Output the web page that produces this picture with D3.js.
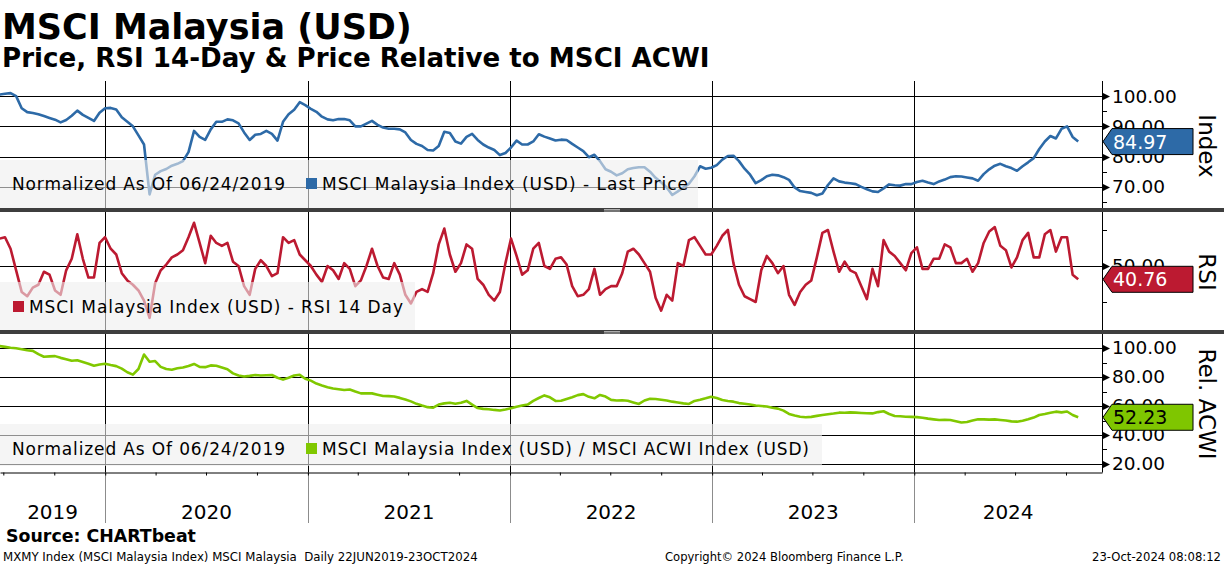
<!DOCTYPE html>
<html>
<head>
<meta charset="utf-8">
<script src="https://cdn.jsdelivr.net/npm/d3@7"></script>
<style>
  body { margin: 0; background: #fff; }
  svg { display: block; font-family: "DejaVu Sans", sans-serif; }
</style>
</head>
<body>
<svg id="chart" width="1224" height="566"></svg>
<script>
// ---- data (~10 day spacing) ----
const startDate = "2019-06-24";
const endDate = "2024-10-23";

const priceValues = [
  100.5, 100.8, 101.0, 100.0, 96.0, 94.7, 94.4, 94.0, 93.4, 92.8,
  92.2, 91.3, 92.1, 93.5, 95.2, 93.8, 92.8, 91.8, 94.5, 96.0,
  96.1, 95.6, 93.0, 91.5, 90.0, 87.0, 84.0, 67.5, 74.0, 75.2,
  75.9, 77.0, 77.6, 78.5, 81.5, 88.5, 86.5, 85.5, 89.0, 91.5,
  91.5, 92.3, 92.0, 91.0, 88.0, 85.5, 87.2, 87.5, 88.5, 87.5,
  85.3, 91.5, 94.0, 95.5, 98.0, 97.0, 95.8, 94.8, 93.2, 92.3,
  92.0, 92.4, 92.4, 92.0, 90.0, 90.0, 90.9, 91.8, 90.5, 89.6,
  89.2, 89.2, 89.0, 88.0, 85.5, 84.2, 83.5, 82.2, 82.0, 83.5,
  88.2, 87.8, 85.0, 84.3, 86.5, 87.5, 85.5, 84.0, 83.0, 82.2,
  80.5, 81.2, 83.0, 85.3, 84.0, 84.0, 85.0, 87.4, 86.6, 86.0,
  85.3, 85.6, 85.5, 84.2, 83.0, 81.8, 79.8, 80.6, 78.5, 75.8,
  75.0, 73.8, 74.5, 75.8, 76.2, 76.5, 76.5, 75.0, 73.0, 71.5,
  69.8, 67.3, 68.5, 69.8, 71.0, 73.5, 76.8, 76.0, 76.3, 77.2,
  79.0, 80.2, 80.3, 78.5, 76.0, 74.0, 71.2, 72.2, 73.5, 74.0,
  73.8, 73.2, 72.3, 69.8, 68.6, 68.3, 68.0, 67.2, 67.8, 70.6,
  72.8, 71.8, 71.4, 71.2, 70.9, 70.0, 69.2, 68.5, 68.3, 69.5,
  70.8, 70.5, 70.4, 70.9, 70.9, 71.6, 72.0, 71.4, 70.9, 71.8,
  72.4, 73.2, 73.5, 73.4, 73.1, 72.8, 72.0, 74.2, 75.8, 77.0,
  77.6, 76.8, 76.2, 75.3, 76.8, 78.1, 79.5, 82.5, 85.0, 86.8,
  86.0, 89.2, 90.0, 86.5, 84.97
];

const rsiValues = [
  69, 70, 62, 47, 32, 29, 35, 37, 46, 44,
  33, 30, 47, 55, 72, 55, 42, 42, 66, 70,
  62, 58, 45, 40, 37, 33, 26, 14, 38, 47,
  51, 56, 58, 61, 70, 80, 66, 52, 71, 66,
  64, 66, 53, 50, 36, 30, 48, 54, 50, 43,
  45, 70, 66, 68, 58, 54, 50, 44, 39, 50,
  47, 41, 52, 48, 36, 40, 50, 62, 50, 42,
  41, 52, 44, 30, 24, 32, 34, 32, 45, 65,
  76, 58, 46, 52, 65, 62, 41, 37, 30, 26,
  32, 52, 69, 57, 44, 47, 62, 66, 50, 48,
  55, 56, 51, 36, 29, 30, 34, 48, 30, 34,
  36, 36, 45, 60, 62, 58, 52, 46, 28, 19,
  30, 26, 52, 50, 68, 70, 64, 58, 58, 64,
  71, 75, 52, 37, 29, 27, 25, 47, 57, 52,
  45, 50, 30, 23, 32, 37, 40, 56, 73, 75,
  60, 46, 53, 47, 45, 36, 27, 48, 36, 68,
  60, 57, 52, 47, 59, 63, 48, 48, 55, 55,
  65, 63, 52, 52, 55, 46, 52, 66, 74, 77,
  64, 61, 49, 56, 68, 73, 56, 56, 72, 75,
  60, 70, 70, 44, 40.76
];

const relValues = [
  101.4, 100.8, 100.2, 99.8, 99.2, 98.5, 98.0, 95.8, 94.0, 94.2,
  94.4, 93.2, 92.3, 91.2, 91.6, 90.4, 89.2, 87.8, 88.6, 89.2,
  88.3, 87.5, 85.8, 83.3, 81.6, 85.5, 95.5, 90.5, 91.0, 87.0,
  85.5, 85.0, 86.0, 86.5, 87.6, 89.0, 87.0, 86.8, 88.0, 87.8,
  86.6, 85.4, 82.5, 81.0, 80.3, 80.8, 81.4, 81.0, 81.2, 81.4,
  79.5, 78.2, 79.5, 81.0, 81.5, 78.8, 77.5, 75.5, 74.2, 73.0,
  72.1, 71.6, 71.0, 71.4, 70.0, 68.7, 68.8, 68.7, 67.8, 66.9,
  66.8, 66.5, 65.6, 64.5, 63.2, 61.5, 60.3, 59.2, 58.8, 61.0,
  61.8, 62.2, 61.6, 62.2, 63.5, 61.0, 58.6, 58.0, 57.8, 57.3,
  56.9, 57.6, 58.4, 59.5, 60.3, 61.0, 63.5, 65.5, 67.3, 66.0,
  63.5, 63.6, 64.8, 66.0, 67.5, 68.2, 66.3, 65.3, 67.6, 66.5,
  64.2, 63.8, 64.0, 63.6, 62.5, 61.4, 63.8, 65.0, 64.8, 64.3,
  63.8, 63.0, 62.4, 61.8, 61.4, 63.5, 64.3, 65.3, 66.4, 65.5,
  64.2, 63.5, 63.0, 62.0, 61.6, 61.0, 60.3, 60.0, 59.6, 58.8,
  58.2, 56.8, 54.5, 53.4, 52.6, 52.2, 52.5, 53.2, 53.8, 54.3,
  54.8, 55.4, 55.3, 55.6, 55.4, 55.2, 55.0, 54.9, 55.8, 56.4,
  54.5, 53.1, 52.9, 52.6, 52.5, 52.3, 51.9, 51.3, 50.8, 50.3,
  50.5, 50.3, 49.5, 48.6, 49.0, 50.0, 50.8, 50.8, 50.6, 50.8,
  50.4, 50.0, 49.4, 49.2, 49.8, 50.8, 52.0, 53.8, 54.5, 55.3,
  56.1, 55.6, 56.2, 53.8, 52.23
];

const priceTicks = [100, 90, 80, 70];
const priceMinor = [95, 85, 75, 65];
const rsiTicks = [50];
const rsiMinor = [75, 25];
const relTicks = [100, 80, 60, 40, 20];
const relMinor = [90, 70, 50, 30];
const yearLabels = ["2019", "2020", "2021", "2022", "2023", "2024"];
const lastLabels = ["84.97", "40.76", "52.23"];

// ---- layout ----
const W = 1224, H = 566;
const plotRight = 1102;
const axisY = 472;
const svg = d3.select("#chart");

const x = d3.scaleTime()
  .domain([new Date(2019, 5, 25), new Date(2024, 11, 5)])
  .range([0, plotRight]);

const t0 = new Date(startDate + "T00:00:00"), t1 = new Date(endDate + "T00:00:00");
const n = priceValues.length;
const dates = priceValues.map((_, i) => new Date(+t0 + (t1 - t0) * i / (n - 1)));

const panels = [
  { values: priceValues, top: 81, bottom: 208, domain: [63, 105], ticks: priceTicks, minor: priceMinor,
    color: "#2d6aa7", fill: "#2d6aa7", textColor: "#fff", title: "Index", titleY: 146 },
  { values: rsiValues, top: 212, bottom: 330, domain: [5.56, 87.5], ticks: rsiTicks, minor: rsiMinor,
    color: "#bc1a31", fill: "#bc1a31", textColor: "#fff", title: "RSI", titleY: 272 },
  { values: relValues, top: 334, bottom: axisY, domain: [14.48, 109.66], ticks: relTicks, minor: relMinor,
    color: "#80c800", fill: "#7fc600", textColor: "#000", title: "Rel. ACWI", titleY: 404 }
];
panels.forEach(p => {
  p.y = d3.scaleLinear().domain(p.domain).range([p.bottom, p.top]);
});

const years = d3.timeYear.range(new Date(2020, 0, 1), new Date(2025, 0, 1));

// horizontal grid
panels.forEach(p => {
  svg.append("g").selectAll("line").data(p.ticks).join("line")
    .attr("x1", 0).attr("x2", plotRight)
    .attr("y1", d => Math.round(p.y(d)) + 0.5).attr("y2", d => Math.round(p.y(d)) + 0.5)
    .attr("stroke", "#000").attr("stroke-width", 1);
});

// vertical year grid
svg.append("g").selectAll("line").data(years).join("line")
  .attr("x1", d => Math.round(x(d)) + 0.5).attr("x2", d => Math.round(x(d)) + 0.5)
  .attr("y1", 81).attr("y2", axisY)
  .attr("stroke", "#000");
svg.append("g").selectAll("line").data(years).join("line")
  .attr("x1", d => Math.round(x(d)) + 0.5).attr("x2", d => Math.round(x(d)) + 0.5)
  .attr("y1", axisY).attr("y2", 523)
  .attr("stroke", "#8c8c8c");

// series lines
svg.append("clipPath").attr("id", "plotclip")
  .append("rect").attr("x", 0).attr("y", 70).attr("width", plotRight).attr("height", axisY - 70);

panels.forEach(p => {
  const line = d3.line()
    .x((d, i) => x(dates[i]))
    .y(d => p.y(d));
  svg.append("path")
    .attr("d", line(p.values))
    .attr("clip-path", "url(#plotclip)")
    .attr("fill", "none")
    .attr("stroke", p.color)
    .attr("stroke-width", 2.6)
    .attr("stroke-linejoin", "round");
});

// legend boxes
const legends = [
  { x: 0, y: 160, w: 698, h: 48, base: 190,
    items: [ { text: "Normalized As Of 06/24/2019", x: 12, w: 273 },
             { text: "MSCI Malaysia Index (USD) - Last Price", x: 322, w: 366, marker: 306, color: panels[0].color } ] },
  { x: 0, y: 282, w: 415, h: 48, base: 313,
    items: [ { text: "MSCI Malaysia Index (USD) - RSI 14 Day", x: 29, w: 374, marker: 13, color: panels[1].color } ] },
  { x: 0, y: 424, w: 822, h: 42, base: 455,
    items: [ { text: "Normalized As Of 06/24/2019", x: 12, w: 273 },
             { text: "MSCI Malaysia Index (USD) / MSCI ACWI Index (USD)", x: 322, w: 487, marker: 306, color: panels[2].color } ] }
];
legends.forEach(l => {
  svg.append("rect").attr("x", l.x).attr("y", l.y).attr("width", l.w).attr("height", l.h)
    .attr("fill", "#eeeeee").attr("fill-opacity", 0.6);
  l.items.forEach(it => {
    if (it.marker !== undefined) {
      svg.append("rect").attr("x", it.marker).attr("y", l.base - 12).attr("width", 11).attr("height", 11)
        .attr("fill", it.color);
    }
    svg.append("text").attr("x", it.x).attr("y", l.base)
      .attr("font-size", 17).attr("fill", "#000")
      .attr("textLength", it.w).attr("lengthAdjust", "spacing")
      .text(it.text);
  });
});

// right axis line
svg.append("line").attr("x1", plotRight + 0.5).attr("x2", plotRight + 0.5)
  .attr("y1", 81).attr("y2", axisY + 0.5).attr("stroke", "#000");

// x axis (quarter ticks)
const xAxis = d3.axisBottom(x)
  .ticks(d3.timeMonth.every(3))
  .tickSize(3).tickSizeOuter(0).tickFormat("");
svg.append("g").attr("transform", `translate(0,${axisY + 0.5})`).call(xAxis)
  .call(g => g.selectAll("path,line").attr("stroke", "#000"));

// year labels centred in the visible part of each year
const [xd0, xd1] = x.domain();
yearLabels.forEach(lbl => {
  const a = new Date(+lbl, 0, 1), b = new Date(+lbl + 1, 0, 1);
  const xa = x(a < xd0 ? xd0 : a), xb = x(b > xd1 ? xd1 : b);
  svg.append("text").attr("x", (xa + xb) / 2).attr("y", 519)
    .attr("text-anchor", "middle").attr("font-size", 20).text(lbl);
});

// y axes
panels.forEach(p => {
  const ax = d3.axisRight(p.y).tickValues(p.ticks).tickSize(0).tickPadding(10)
    .tickFormat(d3.format(".2f"));
  svg.append("g").attr("transform", `translate(${plotRight},0)`).call(ax)
    .call(g => g.select(".domain").remove())
    .call(g => g.selectAll("text").attr("font-size", 18.5).attr("font-family", "DejaVu Sans").attr("fill", "#000"));

  svg.append("g").selectAll("path").data(p.ticks).join("path")
    .attr("d", d => { const yy = Math.round(p.y(d)) + 0.5; return `M${plotRight},${yy - 4}L${plotRight + 8},${yy}L${plotRight},${yy + 4}Z`; })
    .attr("fill", "#000");
  svg.append("g").selectAll("line").data(p.minor).join("line")
    .attr("x1", plotRight).attr("x2", plotRight + 5)
    .attr("y1", d => Math.round(p.y(d)) + 0.5).attr("y2", d => Math.round(p.y(d)) + 0.5)
    .attr("stroke", "#000");

  svg.append("text")
    .attr("transform", `translate(1199,${p.titleY}) rotate(90)`)
    .attr("text-anchor", "middle").attr("font-size", 23).text(p.title);
});

// panel separators
[208, 330].forEach(sy => {
  svg.append("rect").attr("x", 0).attr("y", sy).attr("width", W).attr("height", 4).attr("fill", "#3e3e3e");
  [sy + 1.5, sy + 3].forEach(gy => {
    svg.append("line").attr("x1", 604).attr("x2", 620).attr("y1", gy).attr("y2", gy)
      .attr("stroke", "#c8c8c8").attr("stroke-width", 0.8);
  });
});

// last value callouts
panels.forEach((p, i) => {
  const cy = p.y(p.values[p.values.length - 1]);
  svg.append("path")
    .attr("d", `M${plotRight + 1},${cy}L${plotRight + 10},${cy - 13}L1193,${cy - 13}L1193,${cy + 13}L${plotRight + 10},${cy + 13}Z`)
    .attr("fill", p.fill).attr("stroke", "#000").attr("stroke-width", 1);
  svg.append("text").attr("x", 1113).attr("y", cy + 7)
    .attr("font-size", 19).attr("fill", p.textColor).text(lastLabels[i]);
});

// titles and footer, sized to the reference widths
function fitText(sel, width) {
  const w = sel.node().getComputedTextLength();
  sel.attr("font-size", parseFloat(sel.attr("font-size")) * width / w);
  return sel;
}
fitText(svg.append("text").attr("x", 2).attr("y", 39).attr("font-size", 34).attr("font-weight", "bold")
  .text("MSCI Malaysia (USD)"), 410);
fitText(svg.append("text").attr("x", 2).attr("y", 67).attr("font-size", 22).attr("font-weight", "bold")
  .text("Price, RSI 14-Day & Price Relative to MSCI ACWI"), 708);
fitText(svg.append("text").attr("x", 6).attr("y", 542).attr("font-size", 17).attr("font-weight", "bold")
  .text("Source: CHARTbeat"), 190);
fitText(svg.append("text").attr("x", 3).attr("y", 561).attr("font-size", 11)
  .attr("xml:space", "preserve").style("white-space", "pre")
  .text("MXMY Index (MSCI Malaysia Index) MSCI Malaysia  Daily 22JUN2019-23OCT2024"), 475);
fitText(svg.append("text").attr("x", 665).attr("y", 561).attr("font-size", 11)
  .text("Copyright\u00a9 2024 Bloomberg Finance L.P."), 239);
const stamp = svg.append("text").attr("x", 1221).attr("y", 561).attr("font-size", 11)
  .attr("text-anchor", "end").text("23-Oct-2024 08:08:12");
fitText(stamp, 129);
</script>
</body>
</html>
